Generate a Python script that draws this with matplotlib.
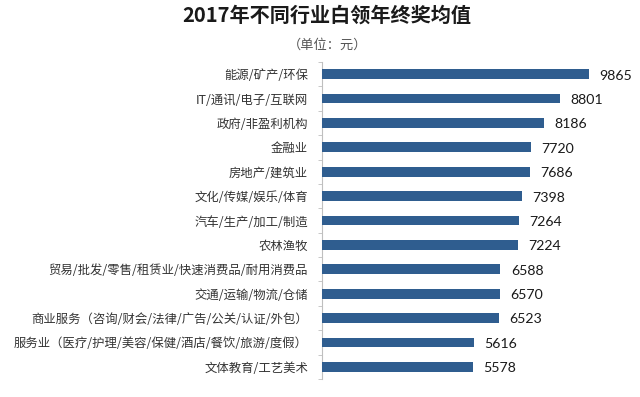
"""Average year-end bonus for white-collar workers by industry, 2017."""

import matplotlib

matplotlib.use("Agg")
import matplotlib.pyplot as plt
import numpy as np

industries = [
    "能源/矿产/环保",
    "IT/通讯/电子/互联网",
    "政府/非盈利机构",
    "金融业",
    "房地产/建筑业",
    "文化/传媒/娱乐/体育",
    "汽车/生产/加工/制造",
    "农林渔牧",
    "贸易/批发/零售/租赁业/快速消费品/耐用消费品",
    "交通/运输/物流/仓储",
    "商业服务（咨询/财会/法律/广告/公关/认证/外包）",
    "服务业（医疗/护理/美容/保健/酒店/餐饮/旅游/度假）",
    "文体教育/工艺美术",
]
bonus = [9865, 8801, 8186, 7720, 7686, 7398, 7264, 7224, 6588, 6570, 6523, 5616, 5578]

plt.rcParams["font.family"] = ["Noto Sans CJK SC", "DejaVu Sans"]

fig = plt.figure(figsize=(6.4, 3.97), dpi=100)
ax = fig.add_axes([0.503, 0.0453, 0.466, 0.7985])

y = np.arange(len(industries))
bars = ax.barh(y, bonus, height=0.4, color="#2f5d8f", zorder=3)

for bar, value in zip(bars, bonus):
    ax.annotate(
        f"{value}",
        xy=(bar.get_width(), bar.get_y() + bar.get_height() / 2),
        xytext=(7.5, -1),
        textcoords="offset points",
        ha="left",
        va="center",
        fontsize=10.2,
        family="Lato",
        color="#1a1a1a",
    )

ax.set_ylim(len(industries) - 0.5, -0.5)
ax.set_xlim(0, 11010)

ax.set_yticks(y)
ax.set_yticklabels(industries, fontsize=8.9, color="#333333")
ax.tick_params(axis="y", which="major", length=0, pad=10)
ax.set_yticks(np.arange(-0.5, len(industries), 1), minor=True)
ax.tick_params(axis="y", which="minor", length=3, color="#bfbfbf", direction="out")
ax.set_xticks([])

for side in ["top", "right", "bottom"]:
    ax.spines[side].set_visible(False)
ax.spines["left"].set_color("#bfbfbf")

fig.text(0.51, 0.962, "2017年不同行业白领年终奖均值", ha="center", va="center",
         fontsize=14.5, fontweight="bold", color="#1a1a1a")
fig.text(0.512, 0.885, "（单位：元）", ha="center", va="center",
         fontsize=9.5, color="#555555")

fig.savefig("out.png", dpi=100)
